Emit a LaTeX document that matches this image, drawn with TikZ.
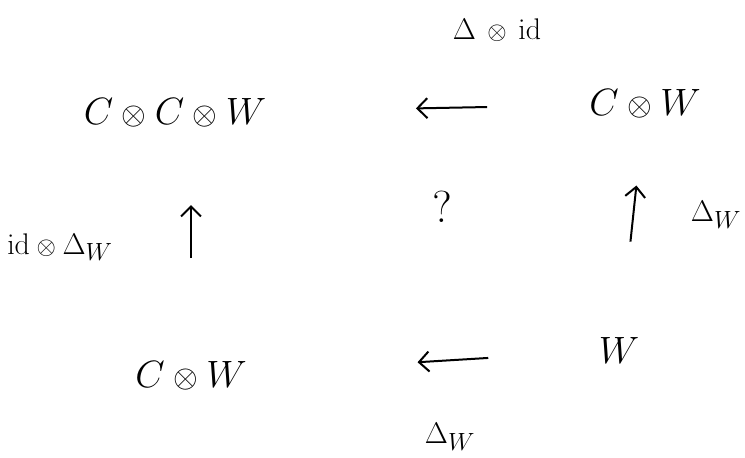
\documentclass[tikz,border=0pt]{standalone}
\usetikzlibrary{arrows.meta}
\newcommand{\tens}{\mathbin{\scriptstyle\otimes}}
\begin{document}
\begin{tikzpicture}[x=1pt,y=-1pt,
    obj/.style={font=\Huge,scale=1.53},
    lbl/.style={font=\Huge,scale=1.2},
    arr/.style={-{Straight Barb[length=10pt,width=20pt]},line width=2pt}]
      \useasboundingbox (0,0) rectangle (745,458);
      \draw
        (175,113) node[obj] (ccw){$C\tens C\tens W$}
        (645,104) node[obj] (cwt){$C\tens W$}
        (191,376) node[obj] (cwb){$C\tens W$}
        (619,350) node[obj] (w){$W$};
      % arrow labels
      \draw
        (497,30) node[lbl] (ld){$\Delta\,\tens\,\mathrm{id}$}
        (60,247) node[lbl] (li){$\mathrm{id}\tens\Delta_W$}
        (716,215) node[lbl] (lr){$\Delta_W$}
        (450,437) node[lbl] (lb){$\Delta_W$}
        (442,207) node[lbl,scale=1.5] (q){$?$};
      \begin{scope}[arr]
        \draw[shorten <=158pt,shorten >=241pt] (cwt.center) to (ccw.center);
        \draw[shorten <=118pt,shorten >=92pt] (cwb.center) to (ccw -| cwb);
        \draw[shorten <=109pt,shorten >=82pt] (w.center) to (cwt.center);
        \draw[shorten <=131pt,shorten >=227pt] (w.center) to (cwb.center);
      \end{scope}
    \end{tikzpicture}
\end{document}
